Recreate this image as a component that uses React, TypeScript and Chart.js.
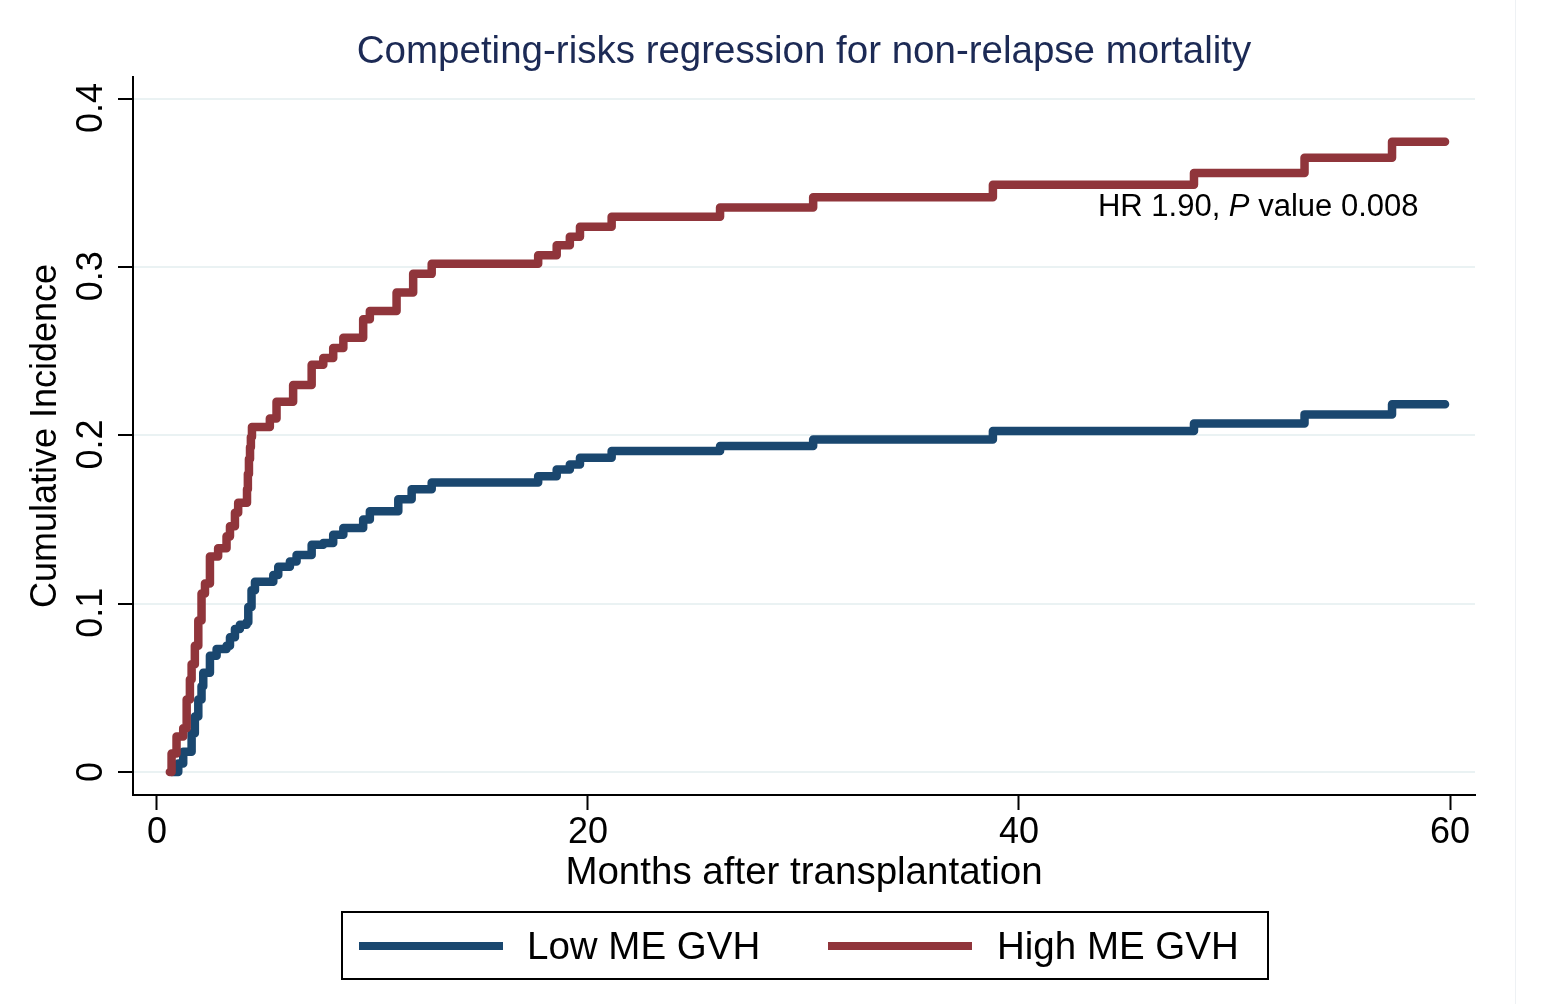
import React, { useEffect, useRef } from "react";
import { Chart, registerables } from "chart.js";

Chart.register(...registerables);

// ---------- data ----------
const chartTitle = "Competing-risks regression for non-relapse mortality";
const xAxisTitle = "Months after transplantation";
const yAxisTitle = "Cumulative Incidence";
const seriesLabels = ["Low ME GVH", "High ME GVH"];
const seriesColors = ["#1a476f", "#90353b"];

const xTicks = [0, 20, 40, 60];
const yTicks = [0, 0.1, 0.2, 0.3, 0.4];
const yTickLabels = ["0", "0.1", "0.2", "0.3", "0.4"];

const lowTimes = [
  0.7, 0.99, 1.22, 1.61, 1.76, 1.92, 2.07, 2.15, 2.46, 2.77, 3.23, 3.39, 3.62,
  3.85, 4.16, 4.24, 4.39, 4.55, 5.4, 5.63, 6.17, 6.48, 7.18, 7.72, 8.18, 8.65,
  9.57, 9.88, 11.2, 11.82, 12.75, 17.69, 18.55, 19.16, 19.63, 21.1, 26.13,
  30.45, 38.79, 48.12, 53.25, 57.31, 59.77,
];
const lowValues = [
  0, 0.005, 0.012, 0.023, 0.033, 0.043, 0.051, 0.059, 0.069, 0.073, 0.075,
  0.08, 0.085, 0.0875, 0.089, 0.098, 0.108, 0.113, 0.117, 0.122, 0.125, 0.129,
  0.135, 0.136, 0.141, 0.145, 0.15, 0.155, 0.162, 0.168, 0.172, 0.1757, 0.1798,
  0.1827, 0.1867, 0.1907, 0.1937, 0.1976, 0.2026, 0.2071, 0.2125, 0.2185,
  0.2185,
];

const highTimes = [
  0.6, 0.68, 0.91, 1.22, 1.38, 1.53, 1.61, 1.76, 1.92, 2.07, 2.23, 2.46, 2.84,
  3.23, 3.39, 3.62, 3.77, 4.18, 4.22, 4.27, 4.32, 4.36, 4.41, 5.24, 5.55, 6.32,
  7.18, 7.72, 8.18, 8.65, 9.57, 9.88, 11.12, 11.89, 12.75, 17.69, 18.55, 19.16,
  19.63, 21.1, 26.13, 30.45, 38.79, 48.12, 53.25, 57.31, 59.77,
];
const highValues = [
  0, 0.011, 0.021, 0.026, 0.043, 0.055, 0.064, 0.075, 0.09, 0.106, 0.112, 0.128,
  0.133, 0.14, 0.146, 0.154, 0.16, 0.168, 0.177, 0.186, 0.193, 0.199, 0.205,
  0.21, 0.22, 0.23, 0.242, 0.246, 0.252, 0.258, 0.269, 0.274, 0.285, 0.296,
  0.302, 0.307, 0.313, 0.318, 0.324, 0.33, 0.3355, 0.3415, 0.349, 0.356, 0.365,
  0.3745, 0.3745,
];

const annotationParts = ["HR 1.90, ", "P", " value 0.008"];
const annotationItalic = [false, true, false];
const annotationAt = [51.1, 0.3305];

// ---------- layout constants ----------
const W = 1543;
const H = 1004;
const FONT = "'Liberation Sans', Arial, Helvetica, sans-serif";

const decorPlugin = {
  id: "decor",
  afterDraw(chart: any) {
    const { ctx } = chart;
    const ys = chart.scales.y;
    const xs = chart.scales.x;
    ctx.save();

    // y tick labels, rotated
    ctx.fillStyle = "#000";
    ctx.font = `36px ${FONT}`;
    const zeroW = ctx.measureText("0").width;
    yTicks.forEach((v, i) => {
      const lab = yTickLabels[i];
      const w = ctx.measureText(lab).width;
      const py = ys.getPixelForValue(v) + (w - zeroW) * 0.3;
      ctx.save();
      ctx.translate(102, py);
      ctx.rotate(-Math.PI / 2);
      ctx.textAlign = "center";
      ctx.textBaseline = "alphabetic";
      ctx.fillText(lab, 0, 0);
      ctx.restore();
    });

    // annotation
    const fonts = annotationItalic.map((it) => `${it ? "italic " : ""}31px ${FONT}`);
    let total = 0;
    const widths = annotationParts.map((p, i) => {
      ctx.font = fonts[i];
      const w = ctx.measureText(p).width;
      total += w;
      return w;
    });
    let ax = xs.getPixelForValue(annotationAt[0]) - total / 2;
    const ay = ys.getPixelForValue(annotationAt[1]);
    ctx.textAlign = "left";
    ctx.textBaseline = "alphabetic";
    annotationParts.forEach((p, i) => {
      ctx.font = fonts[i];
      ctx.fillText(p, ax, ay);
      ax += widths[i];
    });

    // legend box
    ctx.strokeStyle = "#000";
    ctx.lineWidth = 2;
    ctx.strokeRect(342, 912, 926, 67);
    const swatchX = [359, 828];
    const textX = [527, 997];
    ctx.font = `38.5px ${FONT}`;
    chart.data.datasets.forEach((ds: any, i: number) => {
      ctx.strokeStyle = ds.borderColor;
      ctx.lineWidth = 8;
      ctx.lineCap = "butt";
      ctx.beginPath();
      ctx.moveTo(swatchX[i], 946);
      ctx.lineTo(swatchX[i] + 144, 946);
      ctx.stroke();
      ctx.fillStyle = "#000";
      ctx.fillText(ds.label, textX[i], 959);
    });

    // faint right border of the image
    ctx.strokeStyle = "#eef1f4";
    ctx.lineWidth = 1;
    ctx.beginPath();
    ctx.moveTo(1515.5, 0);
    ctx.lineTo(1515.5, H);
    ctx.stroke();

    ctx.restore();
  },
};

export default function App() {
  const ref = useRef<HTMLCanvasElement | null>(null);

  useEffect(() => {
    if (!ref.current) return;
    const lowData = lowTimes.map((t, i) => ({ x: t, y: lowValues[i] }));
    const highData = highTimes.map((t, i) => ({ x: t, y: highValues[i] }));
    const common = {
      stepped: true,
      borderWidth: 8.5,
      pointRadius: 0,
      pointHoverRadius: 0,
      borderCapStyle: "round",
      borderJoinStyle: "round",
      fill: false,
      tension: 0,
    };
    const chart = new Chart(ref.current, {
      type: "line",
      data: {
        datasets: [
          {
            ...common,
            label: seriesLabels[0],
            data: lowData,
            borderColor: seriesColors[0],
            backgroundColor: seriesColors[0],
            order: 1,
          },
          {
            ...common,
            label: seriesLabels[1],
            data: highData,
            borderColor: seriesColors[1],
            backgroundColor: seriesColors[1],
            order: 0,
          },
        ] as any,
      },
      options: {
        animation: false,
        responsive: false,
        maintainAspectRatio: false,
        devicePixelRatio: 1,
        layout: { padding: { top: 0, left: 0, right: W - 1475, bottom: 0 } },
        plugins: {
          legend: { display: false },
          tooltip: { enabled: false },
          title: {
            display: true,
            text: chartTitle,
            fullSize: false,
            color: "#1c2a55",
            font: { family: FONT, size: 38.5, weight: "normal" },
            padding: { top: 29, bottom: 1.8 },
          },
        },
        scales: {
          x: {
            type: "linear",
            min: -1.11,
            max: 61.16,
            afterFit: (s: any) => {
              s.height = H - 795;
            },
            afterBuildTicks: (s: any) => {
              s.ticks = xTicks.map((v) => ({ value: v }));
            },
            ticks: {
              color: "#000",
              font: { family: FONT, size: 36 },
              padding: 1,
              maxRotation: 0,
              minRotation: 0,
              autoSkip: false,
            },
            grid: {
              drawOnChartArea: false,
              drawTicks: true,
              tickLength: 15,
              tickColor: "#000",
              tickWidth: 2,
            },
            border: { display: true, color: "#000", width: 2 },
            title: {
              display: true,
              text: xAxisTitle,
              color: "#000",
              font: { family: FONT, size: 38.5 },
              padding: { top: 0, bottom: 108 },
            },
          },
          y: {
            type: "linear",
            min: -0.0137,
            max: 0.413,
            afterFit: (s: any) => {
              s.width = 133;
            },
            afterBuildTicks: (s: any) => {
              s.ticks = yTicks.map((v) => ({ value: v }));
            },
            ticks: { display: false },
            grid: {
              color: "#eaf2f3",
              lineWidth: 2,
              drawTicks: true,
              tickLength: 15,
              tickColor: "#000",
              tickWidth: 2,
            },
            border: { display: true, color: "#000", width: 2 },
            title: {
              display: true,
              text: yAxisTitle,
              color: "#000",
              font: { family: FONT, size: 36 },
              padding: { top: 24, bottom: 0 },
            },
          },
        },
      } as any,
      plugins: [decorPlugin],
    });
    return () => chart.destroy();
  }, []);

  return (
    <div
      style={{
        position: "fixed",
        left: 0,
        top: 0,
        width: W,
        height: H,
        background: "#fff",
      }}
    >
      <canvas ref={ref} width={W} height={H} style={{ width: W, height: H, display: "block" }} />
    </div>
  );
}
